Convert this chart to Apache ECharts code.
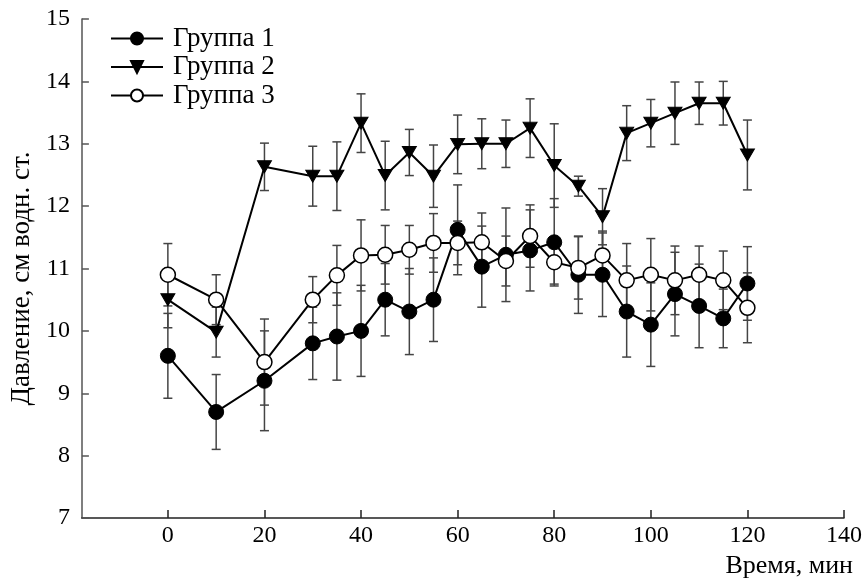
<!DOCTYPE html>
<html>
<head>
<meta charset="utf-8">
<script src="https://cdn.jsdelivr.net/npm/echarts@6/dist/echarts.min.js"></script>
<style>
html,body{margin:0;padding:0;background:#fff;}
#chart{width:865px;height:579px;}
</style>
</head>
<body>
<div id="chart"></div>
<script>
// ---- data ----
const xValues = [0,10,20,30,35,40,45,50,55,60,65,70,75,80,85,90,95,100,105,110,115,120];
const seriesNames = ['Группа 1','Группа 2','Группа 3'];
const group1 = [9.6,8.7,9.2,9.8,9.91,10.0,10.5,10.31,10.5,11.62,11.03,11.22,11.29,11.42,10.9,10.9,10.31,10.1,10.59,10.4,10.2,10.76];
const group1Err = [0.68,0.6,0.8,0.58,0.7,0.73,0.58,0.69,0.67,0.72,0.65,0.75,0.65,0.7,0.62,0.67,0.73,0.67,0.67,0.67,0.47,0.59];
const group2 = [10.5,9.98,12.63,12.48,12.48,13.33,12.49,12.86,12.48,12.99,13.0,13.0,13.25,12.65,12.32,11.83,13.17,13.33,13.49,13.65,13.65,12.82];
const group2Err = [0.45,0.4,0.38,0.48,0.55,0.47,0.55,0.37,0.5,0.47,0.4,0.38,0.47,0.67,0.16,0.45,0.44,0.38,0.5,0.34,0.35,0.56];
const group3 = [10.9,10.5,9.5,10.5,10.89,11.21,11.22,11.3,11.41,11.41,11.42,11.12,11.52,11.1,11.01,11.21,10.81,10.9,10.81,10.9,10.81,10.37];
const group3Err = [0.5,0.4,0.69,0.37,0.48,0.57,0.47,0.39,0.47,0.35,0.47,0.4,0.5,0.35,0.5,0.39,0.59,0.58,0.55,0.46,0.47,0.56];
const xTicks = [0,20,40,60,80,100,120,140];
const xName = 'Время, мин';
const yName = 'Давление, см водн. ст.';

const FONT = "'Liberation Serif','Times New Roman',serif";

function pts(vals){ return xValues.map((x,i)=>[x, vals[i]]); }
function errData(vals, errs){ return xValues.map((x,i)=>[x, vals[i]-errs[i], vals[i]+errs[i]]); }

function errRender(params, api){
  const x = api.value(0);
  const lo = api.coord([x, api.value(1)]);
  const hi = api.coord([x, api.value(2)]);
  const w = 4.5;
  const style = {stroke:'#444', lineWidth:1.5};
  return {
    type:'group',
    children:[
      {type:'line', shape:{x1:lo[0],y1:lo[1],x2:hi[0],y2:hi[1]}, style:style},
      {type:'line', shape:{x1:lo[0]-w,y1:lo[1],x2:lo[0]+w,y2:lo[1]}, style:style},
      {type:'line', shape:{x1:hi[0]-w,y1:hi[1],x2:hi[0]+w,y2:hi[1]}, style:style}
    ]
  };
}

function errSeries(vals, errs){
  return {
    type:'custom', renderItem: errRender, data: errData(vals, errs),
    encode:{x:0, y:[1,2]}, z:1, silent:true
  };
}

const chart = echarts.init(document.getElementById('chart'), null, {renderer:'canvas'});
chart.setOption({
  animation:false,
  backgroundColor:'#fff',
  textStyle:{fontFamily:FONT},
  grid:{left:80, right:17, top:19, bottom:60, containLabel:false},
  legend:{
    orient:'vertical', left:105, top:20,
    itemWidth:52, itemHeight:15, itemGap:1.5,
    data:seriesNames,
    textStyle:{fontFamily:FONT, fontSize:27, color:'#000', lineHeight:27, padding:[0,0,0,5]},
    selectedMode:false
  },
  xAxis:{
    type:'value', min:-17.8, max:140,
    name:xName, nameLocation:'end', nameGap:9,
    nameTextStyle:{fontFamily:FONT, fontSize:26, color:'#000', align:'right', verticalAlign:'top', padding:[35,0,0,0]},
    axisLine:{show:true, onZero:false, lineStyle:{color:'#222', width:1.5}},
    axisTick:{show:true, inside:true, length:8, customValues:xTicks, lineStyle:{color:'#222', width:1.5}},
    axisLabel:{customValues:xTicks, fontFamily:FONT, fontSize:24, color:'#000', margin:6},
    splitLine:{show:false}
  },
  yAxis:{
    type:'value', min:7, max:15, interval:1,
    name:yName, nameLocation:'middle', nameGap:46, nameRotate:90,
    nameTextStyle:{fontFamily:FONT, fontSize:27, color:'#000', padding:[0,20,0,0]},
    axisLine:{show:true, onZero:false, lineStyle:{color:'#555', width:1.5}},
    axisTick:{show:true, inside:true, length:7, lineStyle:{color:'#555', width:1.5}},
    axisLabel:{fontFamily:FONT, fontSize:24, color:'#000', margin:12},
    splitLine:{show:false}
  },
  series:[
    errSeries(group1, group1Err),
    errSeries(group2, group2Err),
    errSeries(group3, group3Err),
    {
      name:seriesNames[0], type:'line', data:pts(group1), z:3,
      symbol:'circle', symbolSize:15,
      lineStyle:{color:'#000', width:2},
      itemStyle:{color:'#000', borderColor:'#000', borderWidth:1},
      emphasis:{disabled:true}
    },
    {
      name:seriesNames[1], type:'line', data:pts(group2), z:3,
      symbol:'triangle', symbolRotate:180, symbolSize:[14,12],
      lineStyle:{color:'#000', width:2},
      itemStyle:{color:'#000', borderColor:'#000', borderWidth:1},
      emphasis:{disabled:true}
    },
    {
      name:seriesNames[2], type:'line', data:pts(group3), z:4,
      symbol:'circle', symbolSize:15,
      lineStyle:{color:'#000', width:2},
      itemStyle:{color:'#fff', borderColor:'#000', borderWidth:1.5},
      emphasis:{disabled:true}
    }
  ]
});
</script>
</body>
</html>
